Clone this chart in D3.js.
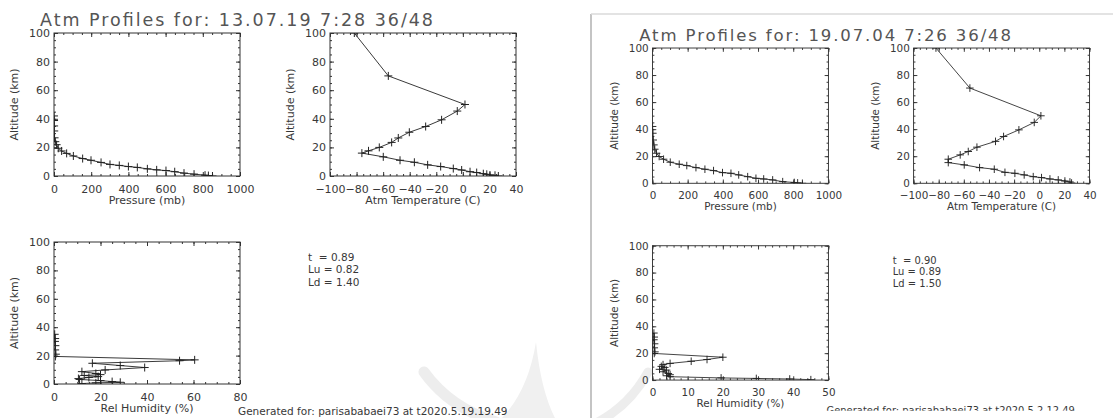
<!DOCTYPE html>
<html>
<head>
<meta charset="utf-8">
<script src="https://cdn.jsdelivr.net/npm/d3@7"></script>
<style>
  body { margin: 0; background: #fff; }
  svg text { font-family: "DejaVu Sans", sans-serif; fill: #383838; }
  .ax text { font-size: 11px; }
  .lab { font-size: 11px; }
  .title { font-size: 17.5px; fill: #555; }
  .info { font-size: 10.5px; white-space: pre; }
  .gen { font-size: 10.5px; }
</style>
</head>
<body>
<div class="container"><svg class="chart"></svg></div>
<script>
// ---- sheet 1 : 13.07.19 ----
const title1 = 'Atm Profiles for: 13.07.19 7:28 36/48';
const presAlt1 = [0, 0.3, 0.6, 1.3, 2.0, 3.0, 3.8, 4.3, 5.0, 6.0, 6.6, 7.4, 8.1, 9.5, 11.0, 12.2, 14.0, 15.8, 17.5, 19.4, 21.9, 24.0, 26.7, 31.5, 35.0, 38.8, 42.0];
const presVal1 = [852, 830, 812, 753, 699, 649, 602, 552, 502, 448, 400, 351, 301, 253, 199, 154, 104, 68, 41, 23, 14, 7, 3, 1.2, 0.6, 0.3, 0.1];
const tempAlt1 = [0, 0.5, 0.7, 1.2, 1.6, 2.4, 3.0, 4.2, 5.2, 6.6, 7.8, 9.6, 11.0, 13.4, 16.0, 17.6, 20.0, 23.5, 26.6, 30.6, 34.6, 39.3, 45.4, 50.0, 70.0, 100.0];
const tempVal1 = [26.7, 24.2, 20.4, 18.0, 15.4, 10.4, 5.4, -0.9, -7.2, -16.7, -26.5, -36.5, -47.3, -59.9, -76.0, -71.0, -62.9, -53.6, -48.6, -40.3, -28.0, -16.0, -4.2, 1.6, -56.1, -81.7];
const rhAlt1 = [0.3, 0.8, 1.2, 1.7, 2.4, 3.2, 3.8, 4.6, 5.2, 6.0, 6.6, 7.4, 8.7, 9.9, 11.6, 13.0, 14.6, 16.4, 17.0, 19.4, 21.0, 24.0, 27.0, 30.0, 32.0, 35.0];
const rhVal1 = [12, 18, 28.5, 25, 20, 11, 10.5, 15, 19, 13, 20, 18, 12, 22, 39, 28.5, 16.5, 54, 60.5, 0.6, 0.8, 0.5, 0.6, 0.4, 0.5, 0.3];
const info1 = ['t  = 0.89', 'Lu = 0.82', 'Ld = 1.40'];
const gen1 = 'Generated for: parisababaei73 at t2020.5.19.19.49';

// ---- sheet 2 : 19.07.04 ----
const title2 = 'Atm Profiles for: 19.07.04 7:26 36/48';
const presAlt2 = [0, 0.3, 0.6, 1.2, 2.5, 3.2, 3.7, 4.9, 6.2, 7.4, 7.9, 9.4, 10.4, 11.6, 13.1, 14.1, 15.6, 17.8, 19.8, 22.2, 25.2, 28.4, 32.0, 37.0, 42.0];
const presVal2 = [852, 825, 806, 740, 683, 632, 588, 541, 490, 446, 398, 347, 298, 247, 195, 152, 101, 63, 38, 23, 13, 8, 4, 2, 0.5];
const tempAlt2 = [0.2, 1.0, 1.7, 2.5, 3.2, 4.2, 4.9, 6.2, 7.4, 8.1, 10.4, 11.6, 13.6, 15.3, 17.8, 21.0, 23.5, 26.7, 31.0, 34.6, 39.5, 45.0, 49.9, 70.4, 100.0];
const tempVal2 = [25.7, 24.4, 20.4, 15.1, 8.5, 1.8, -4.8, -12.0, -19.4, -27.3, -35.8, -47.5, -59.7, -72.4, -72.4, -62.9, -56.5, -49.6, -34.8, -28.4, -16.2, -4.0, 1.3, -55.2, -82.2];
const rhAlt2 = [0.3, 0.8, 1.2, 1.6, 2.5, 3.2, 4.0, 4.9, 6.2, 7.4, 8.0, 9.4, 10.2, 11.5, 12.4, 14.0, 15.3, 17.0, 19.8, 21.0, 24.0, 27.0, 30.0, 32.0, 35.0];
const rhVal2 = [45, 39, 29.5, 19.5, 5, 4, 5, 4.5, 3, 4, 2, 3.5, 2.5, 3, 5, 11, 15.5, 20, 0.5, 0.7, 0.5, 0.6, 0.4, 0.5, 0.4];
const info2 = ['t  = 0.90', 'Lu = 0.89', 'Ld = 1.50'];
const gen2 = 'Generated for: parisababaei73 at t2020.5.2.12.49';

const width = 1113;
const height = 418;
const ink = '#333';

const svg = d3.select('.chart').attr('width', width).attr('height', height);
const defs = svg.append('defs');

// faint watermark behind everything
const wm = svg.append('g').attr('fill', 'none').attr('stroke', '#ededed').attr('stroke-linecap', 'round');
wm.append('path').attr('stroke-width', 11).attr('d', 'M424,372 Q450,408 496,422');
wm.append('path').attr('stroke', 'none').attr('fill', '#f0f0f0').attr('d', 'M500,420 Q528,392 536,342 Q541,392 556,420 Z');
wm.append('path').attr('stroke-width', 9).attr('d', 'M598,422 Q630,405 648,372');

// frame of the second screenshot
svg.append('line').attr('x1', 591).attr('x2', 591).attr('y1', 14).attr('y2', height)
  .attr('stroke', '#c4c4c4').attr('stroke-width', 2);
svg.append('line').attr('x1', 591).attr('x2', width).attr('y1', 14).attr('y2', 14)
  .attr('stroke', '#dadada').attr('stroke-width', 1.5);

const sheets = [
  { id: 's1', tx: 0, ty: 0, k: 1, clipY: null, title: title1,
    pres: d3.zip(presVal1, presAlt1), temp: d3.zip(tempVal1, tempAlt1), rh: d3.zip(rhVal1, rhAlt1),
    rhMax: 80, rhStep: 20, rhMinor: 5, info: info1, gen: gen1, genY: 414.5, genClipX: 534 },
  { id: 's2', tx: 601.4, ty: 16.8, k: 0.946, clipY: 416.5, title: title2,
    pres: d3.zip(presVal2, presAlt2), temp: d3.zip(tempVal2, tempAlt2), rh: d3.zip(rhVal2, rhAlt2),
    rhMax: 50, rhStep: 10, rhMinor: 2, info: info2, gen: gen2, genY: 420, genClipX: null }
];

sheets.forEach(drawSheet);

function drawSheet(s) {
  const g = svg.append('g').attr('transform', 'translate(' + s.tx + ',' + s.ty + ') scale(' + s.k + ')');

  if (s.clipY) {
    defs.append('clipPath').attr('id', s.id + '-sheet')
      .append('rect').attr('x', -20).attr('y', -20).attr('width', 600).attr('height', s.clipY + 20);
    g.attr('clip-path', 'url(#' + s.id + '-sheet)');
  }

  g.append('text').attr('class', 'title')
    .attr('x', 40).attr('y', 25.5)
    .attr('textLength', 393).attr('lengthAdjust', 'spacing')
    .text(s.title);

  plot(g, s.id + 'p', { x0: 54, x1: 240, y0: 33, y1: 176 }, [0, 1000], 200, 50, 'Pressure (mb)', s.pres);
  plot(g, s.id + 't', { x0: 330, x1: 516, y0: 33, y1: 176 }, [-100, 40], 20, 5, 'Atm Temperature (C)', s.temp);
  plot(g, s.id + 'r', { x0: 54, x1: 240, y0: 242, y1: 384 }, [0, s.rhMax], s.rhStep, s.rhMinor, 'Rel Humidity (%)', s.rh);

  g.append('g').selectAll('text')
    .data(s.info)
    .enter()
    .append('text')
    .attr('class', 'info')
    .attr('x', 308)
    .attr('y', (d, i) => 261 + i * 12.4)
    .text(d => d);

  const gen = g.append('text').attr('class', 'gen')
    .attr('x', 238).attr('y', s.genY)
    .text(s.gen);
  if (s.genClipX) {
    defs.append('clipPath').attr('id', s.id + '-gen')
      .append('rect').attr('x', 200).attr('y', 395).attr('width', s.genClipX - 200).attr('height', 30);
    gen.attr('clip-path', 'url(#' + s.id + '-gen)');
  }
}

function plot(g, id, b, xdom, xstep, xminor, xlabel, rows) {
  const x = d3.scaleLinear().domain(xdom).range([b.x0, b.x1]);
  const y = d3.scaleLinear().domain([0, 100]).range([b.y1, b.y0]);

  const xMaj = d3.range(xdom[0], xdom[1] + 1e-6, xstep);
  const xMin = d3.range(xdom[0], xdom[1] + 1e-6, xminor);
  const yMaj = d3.range(0, 100 + 1e-6, 20);
  const yMin = d3.range(0, 100 + 1e-6, 5);

  const p = g.append('g').attr('color', ink);

  // major + minor ticks on all four sides, pointing inward
  p.append('g').attr('class', 'ax').attr('transform', 'translate(0,' + b.y1 + ')')
    .call(d3.axisBottom(x).tickValues(xMaj).tickSize(-4).tickSizeOuter(0).tickPadding(9).tickFormat(d3.format('d')));
  p.append('g').attr('class', 'ax').attr('transform', 'translate(0,' + b.y1 + ')')
    .call(d3.axisBottom(x).tickValues(xMin).tickSize(-2).tickSizeOuter(0).tickFormat(''));
  p.append('g').attr('class', 'ax').attr('transform', 'translate(0,' + b.y0 + ')')
    .call(d3.axisTop(x).tickValues(xMaj).tickSize(-4).tickSizeOuter(0).tickFormat(''));
  p.append('g').attr('class', 'ax').attr('transform', 'translate(0,' + b.y0 + ')')
    .call(d3.axisTop(x).tickValues(xMin).tickSize(-2).tickSizeOuter(0).tickFormat(''));
  p.append('g').attr('class', 'ax').attr('transform', 'translate(' + b.x0 + ',0)')
    .call(d3.axisLeft(y).tickValues(yMaj).tickSize(-4).tickSizeOuter(0).tickPadding(4).tickFormat(d3.format('d')));
  p.append('g').attr('class', 'ax').attr('transform', 'translate(' + b.x0 + ',0)')
    .call(d3.axisLeft(y).tickValues(yMin).tickSize(-2).tickSizeOuter(0).tickFormat(''));
  p.append('g').attr('class', 'ax').attr('transform', 'translate(' + b.x1 + ',0)')
    .call(d3.axisRight(y).tickValues(yMaj).tickSize(-4).tickSizeOuter(0).tickFormat(''));
  p.append('g').attr('class', 'ax').attr('transform', 'translate(' + b.x1 + ',0)')
    .call(d3.axisRight(y).tickValues(yMin).tickSize(-2).tickSizeOuter(0).tickFormat(''));
  p.selectAll('.ax .domain').remove();

  p.append('rect')
    .attr('x', b.x0).attr('y', b.y0)
    .attr('width', b.x1 - b.x0).attr('height', b.y1 - b.y0)
    .attr('fill', 'none').attr('stroke', ink).attr('stroke-width', 1);

  p.append('text').attr('class', 'lab')
    .attr('x', (b.x0 + b.x1) / 2).attr('y', b.y1 + 28)
    .attr('text-anchor', 'middle')
    .text(xlabel);

  p.append('text').attr('class', 'lab')
    .attr('transform', 'translate(' + (b.x0 - 40) + ',' + (b.y0 + b.y1) / 2 + ') rotate(-90)')
    .attr('dy', '0.35em')
    .attr('text-anchor', 'middle')
    .text('Altitude (km)');

  defs.append('clipPath').attr('id', id + '-clip')
    .append('rect')
    .attr('x', b.x0).attr('y', b.y0)
    .attr('width', b.x1 - b.x0).attr('height', b.y1 - b.y0);

  const data = p.append('g').attr('clip-path', 'url(#' + id + '-clip)');

  const line = d3.line()
    .x(d => x(d[0]))
    .y(d => y(d[1]));

  data.append('path')
    .datum(rows)
    .attr('d', line)
    .attr('fill', 'none')
    .attr('stroke', '#3a3a3a')
    .attr('stroke-width', 1);

  data.selectAll('.mk')
    .data(rows)
    .enter()
    .append('path')
    .attr('class', 'mk')
    .attr('transform', d => 'translate(' + x(d[0]) + ',' + y(d[1]) + ')')
    .attr('d', 'M-4,0H4M0,-4V4')
    .attr('stroke', '#222')
    .attr('stroke-width', 1);
}
</script>
</body>
</html>
